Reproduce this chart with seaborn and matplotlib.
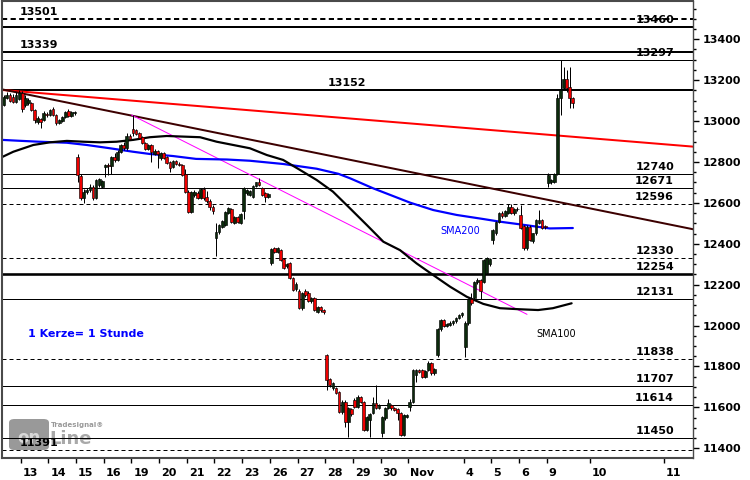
import matplotlib
matplotlib.use("Agg")
import matplotlib.pyplot as plt
import numpy as np
import pandas as pd
import seaborn as sns
from matplotlib.transforms import ScaledTranslation, blended_transform_factory
from matplotlib.patches import FancyBboxPatch

# ---------------- data ----------------
first_bar = -6   # hourly bars, 9 per trading day, bar 0 = 13 Oct 09:00
opens = [13080, 13115, 13128, 13120, 13095, 13110,
         13137, 13080, 13090, 13088, 13054, 12996, 13010, 13005, 13035,
         13030, 13060, 13030, 12992, 13000, 13020, 13050, 13025, 13040,
         12822, 12731, 12626, 12655, 12665, 12680, 12625, 12685, 12680,
         12775, 12786, 12780, 12826, 12810, 12850, 12883, 12870, 12927,
         12960, 12955, 12940, 12922, 12894, 12865, 12883, 12840, 12855,
         12818, 12843, 12824, 12801, 12775, 12805, 12790, 12785, 12740,
         12655, 12557, 12640, 12650, 12625, 12670, 12630, 12610, 12580,
         12427, 12459, 12480, 12492, 12550, 12570, 12500, 12530, 12500,
         12560, 12650, 12640, 12630, 12683, 12704, 12673, 12650, 12630,
         12306, 12378, 12362, 12370, 12326, 12290, 12307, 12231, 12178,
         12170, 12085, 12170, 12160, 12120, 12133, 12068, 12092, 12075,
         11856, 11738, 11693, 11695, 11677, 11579, 11628, 11530, 11590,
         11636, 11603, 11652, 11628, 11490, 11540, 11572, 11620, 11596,
         11473, 11547, 11597, 11610, 11597, 11590, 11572, 11465, 11555,
         11603, 11628, 11760, 11783, 11783, 11750, 11783, 11819, 11767,
         11856, 11982, 12025, 12000, 12005, 12015, 12020, 12035, 12050,
         11897, 12011, 12130, 12133, 12215, 12225, 12215, 12256, 12300,
         12419, 12451, 12508, 12550, 12535, 12549, 12582, 12549, 12570,
         12541, 12487, 12378, 12482, 12415, 12451, 12500, 12516, 12487,
         12696, 12700, 12700, 12740, 13111, 13162, 13206, 13168, 13114]
highs = [13125, 13140, 13138, 13130, 13140, 13150,
         13145, 13125, 13112, 13095, 13060, 13025, 13015, 13050, 13045,
         13060, 13068, 13035, 13010, 13025, 13050, 13058, 13050, 13048,
         12839, 12740, 12668, 12672, 12690, 12688, 12715, 12722, 12712,
         12790, 12795, 12830, 12845, 12858, 12888, 12900, 12940, 12935,
         13030, 12962, 12945, 12928, 12900, 12890, 12890, 12862, 12860,
         12850, 12848, 12830, 12806, 12810, 12812, 12800, 12792, 12765,
         12662, 12660, 12662, 12658, 12675, 12676, 12660, 12618, 12590,
         12500, 12497, 12515, 12562, 12580, 12575, 12535, 12535, 12550,
         12678, 12668, 12665, 12688, 12703, 12720, 12678, 12655, 12650,
         12380, 12385, 12382, 12375, 12330, 12305, 12312, 12236, 12212,
         12180, 12165, 12178, 12168, 12140, 12140, 12098, 12098, 12080,
         11862, 11745, 11725, 11700, 11682, 11635, 11635, 11600, 11598,
         11645, 11660, 11658, 11632, 11560, 11575, 11650, 11710, 11615,
         11560, 11602, 11640, 11618, 11602, 11595, 11578, 11568, 11568,
         11640, 11790, 11790, 11790, 11790, 11785, 11825, 11824, 11795,
         11990, 12032, 12030, 12015, 12020, 12025, 12040, 12055, 12065,
         12020, 12135, 12160, 12220, 12232, 12230, 12325, 12335, 12330,
         12470, 12512, 12555, 12558, 12565, 12594, 12594, 12575, 12578,
         12590, 12492, 12490, 12490, 12455, 12520, 12566, 12522, 12492,
         12745, 12715, 12745, 13130, 13299, 13265, 13250, 13266, 13120]
lows = [13072, 13108, 13095, 13090, 13090, 13105,
        13046, 13070, 13080, 13050, 12990, 12985, 12965, 12998, 13020,
        13025, 13025, 12980, 12985, 12995, 13015, 13018, 13020, 13032,
        12700, 12614, 12598, 12645, 12655, 12615, 12620, 12680, 12672,
        12728, 12737, 12740, 12800, 12805, 12845, 12860, 12860, 12905,
        12925, 12930, 12912, 12888, 12858, 12860, 12802, 12835, 12770,
        12810, 12815, 12790, 12752, 12770, 12785, 12780, 12730, 12650,
        12550, 12552, 12630, 12618, 12620, 12615, 12600, 12565, 12545,
        12342, 12450, 12475, 12488, 12545, 12500, 12495, 12500, 12495,
        12520, 12640, 12635, 12625, 12678, 12684, 12635, 12605, 12625,
        12297, 12355, 12355, 12315, 12276, 12280, 12226, 12168, 12170,
        12080, 12078, 12140, 12115, 12110, 12070, 12060, 12068, 12055,
        11685, 11700, 11685, 11665, 11572, 11570, 11504, 11457, 11560,
        11598, 11598, 11622, 11485, 11485, 11457, 11566, 11590, 11590,
        11457, 11540, 11590, 11588, 11580, 11540, 11460, 11460, 11550,
        11580, 11620, 11726, 11770, 11742, 11745, 11778, 11760, 11760,
        11848, 11975, 11995, 11995, 12000, 12005, 12015, 12030, 12040,
        11848, 12005, 12100, 12125, 12205, 12130, 12210, 12250, 12290,
        12400, 12445, 12500, 12528, 12530, 12545, 12545, 12540, 12560,
        12470, 12370, 12372, 12415, 12405, 12445, 12495, 12470, 12470,
        12679, 12690, 12695, 12735, 13030, 13150, 13140, 13063, 13063]
closes = [13118, 13128, 13100, 13095, 13128, 13135,
          13060, 13115, 13105, 13054, 13005, 13015, 12995, 13040, 13030,
          13055, 13030, 12992, 13005, 13020, 13045, 13025, 13045, 13040,
          12736, 12624, 12655, 12665, 12680, 12625, 12710, 12715, 12705,
          12786, 12780, 12826, 12810, 12850, 12883, 12870, 12927, 12910,
          12942, 12935, 12917, 12893, 12863, 12883, 12849, 12855, 12840,
          12843, 12820, 12795, 12771, 12805, 12790, 12785, 12736, 12655,
          12557, 12655, 12655, 12625, 12670, 12622, 12610, 12580, 12560,
          12459, 12492, 12510, 12557, 12575, 12508, 12530, 12505, 12545,
          12673, 12665, 12660, 12683, 12700, 12688, 12639, 12630, 12645,
          12375, 12362, 12378, 12322, 12281, 12300, 12231, 12174, 12205,
          12085, 12160, 12150, 12120, 12133, 12076, 12092, 12075, 12064,
          11735, 11710, 11718, 11671, 11579, 11628, 11530, 11597, 11570,
          11603, 11652, 11628, 11490, 11555, 11570, 11620, 11596, 11610,
          11555, 11597, 11620, 11595, 11585, 11575, 11465, 11563, 11562,
          11628, 11783, 11783, 11775, 11747, 11780, 11819, 11767, 11790,
          11982, 12027, 12000, 12010, 12015, 12020, 12035, 12050, 12060,
          12011, 12130, 12110, 12215, 12225, 12170, 12320, 12329, 12324,
          12467, 12508, 12550, 12535, 12560, 12582, 12549, 12570, 12568,
          12476, 12378, 12482, 12420, 12451, 12516, 12516, 12477, 12480,
          12736, 12710, 12740, 13111, 13152, 13206, 13160, 13111, 13087]

sma200_bar = [-6.1, -1, 6, 15, 21.5, 29, 36.5, 42, 49.5, 57, 67, 74.5, 85.4, 96.2,
              103.3, 107.1, 114.6, 120.1, 126.6, 134.1, 141.7, 150.4, 155.8, 162.3, 172, 179.5]
sma200_val = [12908, 12904, 12899, 12894, 12883, 12867, 12850, 12839, 12829, 12815, 12812,
              12806, 12790, 12767, 12742, 12720, 12671, 12639, 12601, 12565, 12541, 12521,
              12508, 12495, 12475, 12477]
sma100_bar = [-6.2, -2.4, 4.1, 9.5, 15, 20.4, 25.8, 31.2, 36.6, 42, 47.5, 52.9, 58.3, 63.7,
              74.5, 80, 85.3, 90.8, 96.2, 101.5, 107, 112.5, 117.9, 123.3, 128.7, 134.1, 139.6,
              145, 150.4, 155.8, 162, 168.2, 173, 179.1]
sma100_val = [12823, 12850, 12883, 12896, 12903, 12899, 12896, 12899, 12908, 12921, 12927,
              12924, 12921, 12899, 12867, 12834, 12810, 12761, 12712, 12655, 12574, 12492,
              12410, 12369, 12304, 12247, 12190, 12141, 12106, 12085, 12080, 12076, 12085, 12109]

red_trend_bar = [-6.1, 218.6]
red_trend_val = [13152, 12875]
brown_trend_bar = [-6.1, 218.6]
brown_trend_val = [13155, 12471]
magenta_trend_bar = [36.0, 164.6]
magenta_trend_val = [13030, 12055]

level_vals = [13501, 13460, 13339, 13297, 13152, 12740, 12671, 12596, 12330, 12254,
              12131, 11838, 11707, 11614, 11450, 11391]
level_style = ['dash_thick', 'thick', 'thick', 'thin', 'thick', 'thin', 'thin', 'dash',
               'dash', 'xthick', 'thin', 'dash', 'thin', 'thin', 'thin', 'dash']
level_label_pos = ['left', 'right', 'left', 'right', 'mid', 'right', 'right', 'right',
                   'right', 'right', 'right', 'right', 'right', 'right', 'right', 'left']

day_labels = ['13', '14', '15', '16', '19', '20', '21', '22', '23', '26', '27', '28', '29',
              '30', 'Nov', '4', '5', '6', '9', '10', '11']
day_session = [0, 1, 2, 3, 4, 5, 6, 7, 8, 9, 10, 11, 12, 13, 14, 16, 17, 18, 19]
future_day_bar = [185, 209]
bars_per_day = 9

y_ticks = list(range(11400, 13401, 200))

# ---------------- figure ----------------
sns.set_theme(style="white")
plt.rcParams['font.family'] = ['DejaVu Sans']

W, H = 750, 480
fig = plt.figure(figsize=(W / 100, H / 100), dpi=100)
ax_l, ax_r, ax_t, ax_b = 2, 693, 1, 458
ax = fig.add_axes([ax_l / W, (H - ax_b) / H, (ax_r - ax_l) / W, (ax_b - ax_t) / H])
ax.set_facecolor('white')
ax.set_xlim(-6.08, 218.56)
ax.set_ylim(11352.6, 13587)

px = 0.72  # one pixel in points

# horizontal levels
trans_lbl = blended_transform_factory(ax.transAxes, ax.transData)
off = ScaledTranslation(0, 4 / 100, fig.dpi_scale_trans)
style_map = {
    'thin': dict(lw=1 * px, ls='-'),
    'thick': dict(lw=2 * px, ls='-'),
    'xthick': dict(lw=2.6 * px, ls='-'),
    'dash': dict(lw=1 * px, ls=(0, (4, 3))),
    'dash_thick': dict(lw=2 * px, ls=(0, (2.6, 1.7))),
}
for v, st, pos in zip(level_vals, level_style, level_label_pos):
    ax.axhline(v, color='black', zorder=1, **style_map[st])
    if pos == 'right':
        xf, ha = (674 - ax_l) / (ax_r - ax_l), 'right'
    elif pos == 'left':
        xf, ha = (19.5 - ax_l) / (ax_r - ax_l), 'left'
    else:
        xf, ha = (327.5 - ax_l) / (ax_r - ax_l), 'left'
    ax.text(xf, v, str(v), transform=trans_lbl + off, ha=ha, va='baseline',
            fontsize=8, fontweight='bold', color='black', zorder=6)

# trend lines
ax.plot(red_trend_bar, red_trend_val, color='#ff0000', lw=2 * px, zorder=2)
ax.plot(brown_trend_bar, brown_trend_val, color='#3c0000', lw=2 * px, zorder=2)
ax.plot(magenta_trend_bar, magenta_trend_val, color='#ff00ff', lw=1 * px, zorder=2)

# moving averages (seaborn)
sma200 = pd.DataFrame({'bar': sma200_bar, 'value': sma200_val})
sma100 = pd.DataFrame({'bar': sma100_bar, 'value': sma100_val})
sns.lineplot(data=sma200, x='bar', y='value', ax=ax, color='#0000ff', lw=2.2 * px,
             estimator=None, sort=False, zorder=3)
sns.lineplot(data=sma100, x='bar', y='value', ax=ax, color='black', lw=2.2 * px,
             estimator=None, sort=False, zorder=3)

# candles
o = np.array(opens, float); c = np.array(closes, float)
h = np.array(highs, float); l = np.array(lows, float)
xc = np.arange(first_bar, first_bar + len(o)) + 0.5
up = c >= o
bottom = np.minimum(o, c)
height = np.maximum(np.abs(c - o), 3)
ax.vlines(xc, l, h, color='black', lw=1 * px, zorder=4)
ax.bar(xc[up], height[up], bottom=bottom[up], width=0.9, color='#0b2a0b',
       edgecolor='black', linewidth=0.6 * px, zorder=5)
ax.bar(xc[~up], height[~up], bottom=bottom[~up], width=0.9, color='#ee0000',
       edgecolor='black', linewidth=0.6 * px, zorder=5)

# annotations
def fx(p):
    return (p - ax_l) / (ax_r - ax_l)

def fy(p):
    return (ax_b - p) / (ax_b - ax_t)

ax.text(fx(28), fy(334.3), '1 Kerze= 1 Stunde', transform=ax.transAxes, ha='left',
        va='center', fontsize=8, fontweight='bold', color='#0000ff', zorder=6)
ax.text(fx(440.5), fy(231), 'SMA200', transform=ax.transAxes, ha='left', va='center',
        fontsize=7, color='#0000ff', zorder=6)
ax.text(fx(536.5), fy(334.3), 'SMA100', transform=ax.transAxes, ha='left', va='center',
        fontsize=7, color='black', zorder=6)

# watermark logo
box = FancyBboxPatch((fx(9), fy(450)), fx(49) - fx(9), fy(419) - fy(450),
                     boxstyle='round,pad=0,rounding_size=0.008', transform=ax.transAxes,
                     facecolor='#8e8e8e', edgecolor='none', zorder=0.5, alpha=0.9)
ax.add_patch(box)
ax.text(fx(29), fy(438), 'on', transform=ax.transAxes, ha='center', va='center',
        fontsize=12, fontweight='bold', color='#d8d8d8', zorder=0.6)
ax.text(fx(49), fy(439), 'Line', transform=ax.transAxes, ha='left', va='center',
        fontsize=13, fontweight='bold', color='#a9a9a9', zorder=0.6)
ax.text(fx(51), fy(425), 'Tradesignal®', transform=ax.transAxes, ha='left', va='center',
        fontsize=5, fontweight='bold', color='#9a9a9a', zorder=0.6)

# axes cosmetics
for name, sp in ax.spines.items():
    sp.set_visible(True)
    sp.set_color('#4a4a4a')
    sp.set_linewidth(1.5 if name in ('left', 'bottom', 'top') else 1.0)
    sp.set_zorder(7)

ax.yaxis.tick_right()
ax.set_yticks(y_ticks)
ax.set_yticks(np.arange(11400, 13600, 50), minor=True)
ax.set_yticklabels([str(v) for v in y_ticks])
ax.tick_params(axis='y', which='major', right=True, left=False, length=4, width=1,
               pad=3, labelsize=8, colors='black')
ax.tick_params(axis='y', which='minor', right=True, left=False, length=2, width=1,
               colors='black')

tick_pos = [bars_per_day * d for d in day_session] + future_day_bar
ax.set_xticks(tick_pos)
ax.set_xticklabels(day_labels)
ax.tick_params(axis='x', which='major', bottom=True, length=3.5, width=1, pad=4,
               labelsize=8, colors='black')
shift = ScaledTranslation(2 / 100, 0, fig.dpi_scale_trans)
for lbl in ax.get_xticklabels():
    lbl.set_ha('left')
    lbl.set_fontweight('bold')
    lbl.set_transform(lbl.get_transform() + shift)
for lbl in ax.get_yticklabels():
    lbl.set_fontweight('bold')

ax.set_xlabel('')
ax.set_ylabel('')
ax.grid(False)
if ax.get_legend():
    ax.get_legend().remove()

fig.savefig('out.png', dpi=100, facecolor='white')
